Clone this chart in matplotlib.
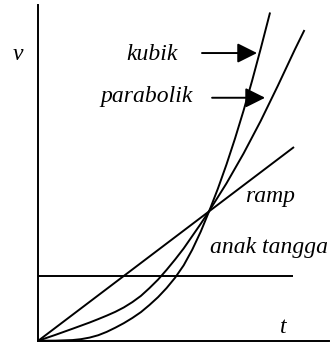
import matplotlib
matplotlib.use("Agg")
import matplotlib.pyplot as plt

# Velocity profiles v(t): step, ramp, parabolic and cubic
t_step = [0.0, 1.49]
v_step = [0.5, 0.5]

t_ramp = [0.0, 1.495]
v_ramp = [0.0, 1.49]

t_para = [0.0, 0.1, 0.2, 0.3, 0.35, 0.4, 0.45, 0.5, 0.55, 0.6, 0.65, 0.7, 0.75,
          0.8, 0.85, 0.9, 0.95, 1.0, 1.1, 1.2, 1.3, 1.4, 1.5, 1.556]
v_para = [0.0, 0.045, 0.092, 0.14, 0.166, 0.193, 0.222, 0.256, 0.297, 0.345, 0.405,
          0.47, 0.545, 0.625, 0.71, 0.805, 0.90, 1.0, 1.21, 1.44, 1.69, 1.96, 2.24, 2.39]

t_cub = [0.0, 0.1, 0.2, 0.25, 0.3, 0.35, 0.4, 0.45, 0.5, 0.55, 0.6, 0.65, 0.7, 0.75,
         0.8, 0.85, 0.9, 0.95, 1.0, 1.05, 1.1, 1.15, 1.2, 1.25, 1.3, 1.355]
v_cub = [0.0, 0.0005, 0.005, 0.012, 0.024, 0.042, 0.068, 0.1, 0.135, 0.175, 0.22, 0.275,
         0.335, 0.405, 0.485, 0.58, 0.70, 0.84, 1.0, 1.17, 1.355, 1.555, 1.77, 2.0, 2.245, 2.525]

labels = {"kubik": (0.513, 2.159), "parabolik": (0.361, 1.836),
          "ramp": (1.209, 1.067), "anak tangga": (1.004, 0.675)}

fig = plt.figure(figsize=(3.33, 3.45), dpi=100)
ax = fig.add_axes([0, 0, 1, 1])
ax.set_xlim(-0.224, 1.723)
ax.set_ylim(-0.033, 2.621)

# axes drawn as plain spines through the origin
for side in ("top", "right"):
    ax.spines[side].set_visible(False)
ax.spines["left"].set_position(("data", 0))
ax.spines["bottom"].set_position(("data", 0))
ax.spines["left"].set_bounds(0, 2.585)
ax.spines["bottom"].set_bounds(0, 1.70)
for side in ("left", "bottom"):
    ax.spines[side].set_linewidth(1.4)
ax.set_xticks([])
ax.set_yticks([])
ax.patch.set_alpha(0)

lw = 1.4
style = dict(color="black", lw=lw, solid_joinstyle="round", solid_capstyle="butt")
ax.plot(t_step, v_step, **style)
ax.plot(t_ramp, v_ramp, **style)
ax.plot(t_para, v_para, **style)
ax.plot(t_cub, v_cub, **style)

font = dict(family=["Liberation Serif", "DejaVu Serif"], style="italic", fontsize=17)
for name, (x, y) in labels.items():
    ax.text(x, y, name, ha="left", va="baseline", **font)
ax.text(-0.148, 2.159, "v", ha="left", va="baseline", **font)
ax.text(1.413, 0.059, "t", ha="left", va="baseline", **font)

arrow = dict(arrowstyle="-|>,head_length=0.4,head_width=0.2", mutation_scale=30,
             color="black", lw=1.4, shrinkA=0, shrinkB=0)
ax.annotate("", xy=(1.279, 2.213), xytext=(0.957, 2.213), arrowprops=arrow)
ax.annotate("", xy=(1.326, 1.869), xytext=(1.016, 1.869), arrowprops=arrow)

fig.savefig("out.png", dpi=100)
